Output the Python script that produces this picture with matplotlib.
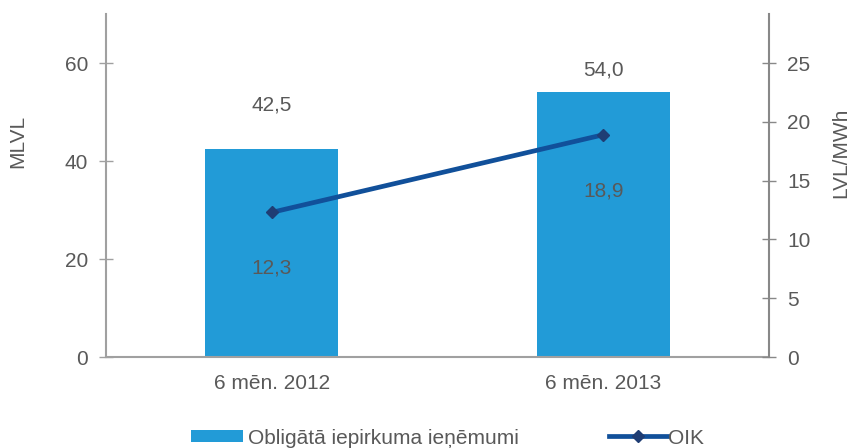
import matplotlib
matplotlib.use("Agg")
import matplotlib.pyplot as plt

plt.rcParams['font.family'] = ['Liberation Sans', 'DejaVu Sans']

# data
periods = ['6 mēn. 2012', '6 mēn. 2013']
revenue = [42.5, 54.0]      # MLVL, bars
oik = [12.3, 18.9]          # LVL/MWh, line
revenue_labels = ['42,5', '54,0']
oik_labels = ['12,3', '18,9']

txt = '#595959'
bar_col = '#229BD7'
line_col = '#11509A'
fs = 15

fig = plt.figure(figsize=(8.54, 4.48), dpi=100)
ax = fig.add_axes([0.1241, 0.2031, 0.7764, 0.7656])
ax2 = ax.twinx()

x = list(range(len(periods)))
bars = ax.bar(x, revenue, width=0.4, color=bar_col, zorder=2,
              label='Obligātā iepirkuma ieņēmumi')
ln, = ax2.plot(x, oik, color=line_col, lw=3.4, marker='D', ms=6,
               mfc='#1F3D74', mec='#1F3D74', label='OIK', zorder=3)

ax.set_xlim(-0.5, 1.5)
ax.set_ylim(0, 70)
ax2.set_ylim(0, 70 / 2.4)
ax.set_yticks([0, 20, 40, 60])
ax2.set_yticks([0, 5, 10, 15, 20, 25])
ax.set_xticks(x)
ax.set_xticklabels(periods)

for a in (ax, ax2):
    a.spines['top'].set_visible(False)
    a.tick_params(colors=txt, labelsize=fs, direction='inout', length=10, width=1)
ax.spines['right'].set_visible(False)
ax.spines['left'].set_color('#A0A0A0')
ax.spines['bottom'].set_color('#A0A0A0')
ax2.spines['left'].set_visible(False)
ax2.spines['bottom'].set_visible(False)
ax2.spines['right'].set_color('#888888')
ax.tick_params(axis='y', color='#A0A0A0', pad=8)
ax2.tick_params(axis='y', color='#888888', pad=8)
ax.tick_params(axis='x', length=0, pad=12)
ax.spines['left'].set_linewidth(1.5)
ax2.spines['right'].set_linewidth(1.5)
ax.spines['bottom'].set_linewidth(1.5)

# axis titles (placed off-centre, as in the original)
fig.text(18 / 854, 1 - 141 / 448, 'MLVL', rotation=90, ha='center', va='center',
         color=txt, fontsize=fs)
fig.text(841 / 854, 1 - 153 / 448, 'LVL/MWh', rotation=90, ha='center', va='center',
         color=txt, fontsize=fs)

# data labels
bar_offsets = [44, 22]
for xi, v, s, off in zip(x, revenue, revenue_labels, bar_offsets):
    ax.annotate(s, (xi, v), xytext=(0, off), textcoords='offset pixels',
                ha='center', va='center', color=txt, fontsize=fs)
for xi, v, s in zip(x, oik, oik_labels):
    ax2.annotate(s, (xi, v), xytext=(0, -56), textcoords='offset pixels',
                 ha='center', va='center', color=txt, fontsize=fs)

leg_y = 1 - 438 / 448
fig.legend(handles=[bars], loc='center left', bbox_to_anchor=(191 / 854, leg_y),
           frameon=False, fontsize=fs, labelcolor=txt, borderpad=0,
           borderaxespad=0, handlelength=2.5, handletextpad=0.25,
           handleheight=0.5)
fig.legend(handles=[ln], loc='center left', bbox_to_anchor=(609 / 854, leg_y),
           frameon=False, fontsize=fs, labelcolor=txt, borderpad=0,
           borderaxespad=0, handlelength=2.8, handletextpad=0.05)

fig.savefig('out.png', dpi=100)
